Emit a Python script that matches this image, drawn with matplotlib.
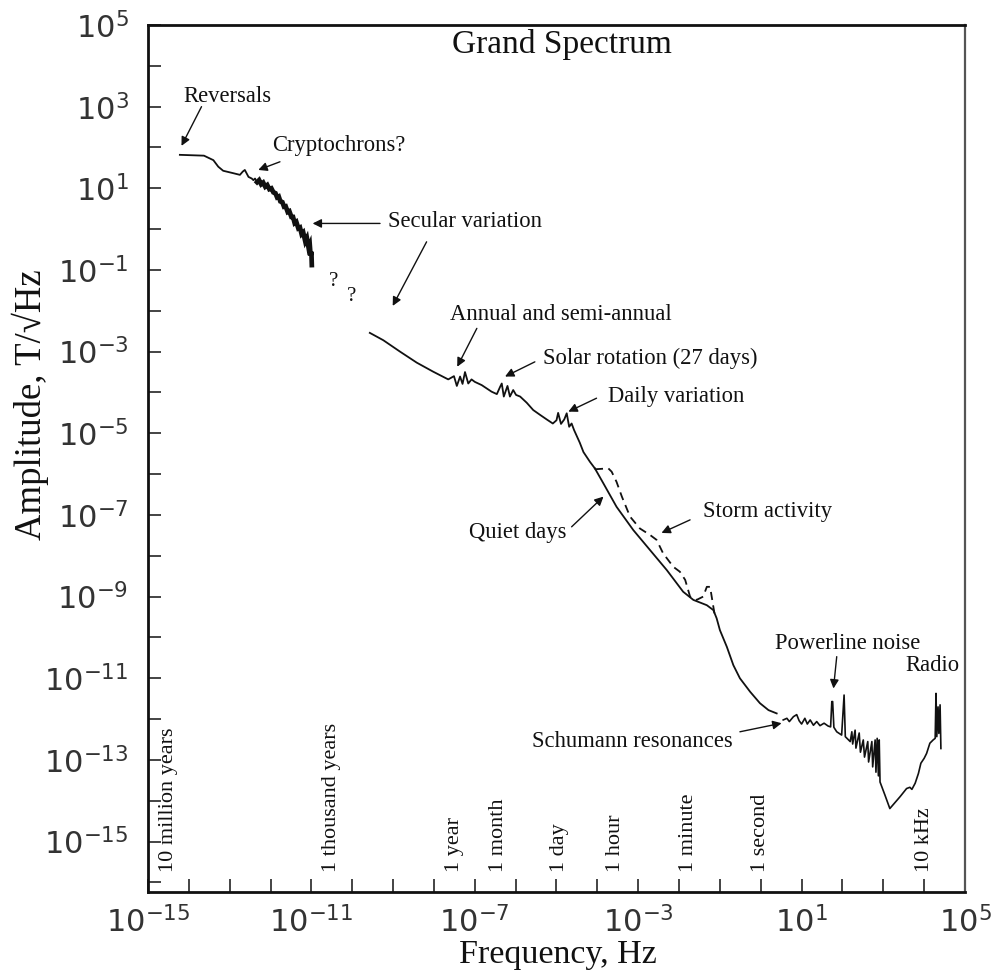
import numpy as np
import matplotlib

matplotlib.use("Agg")
import matplotlib.pyplot as plt
import matplotlib.transforms as mtransforms
from matplotlib.ticker import FixedLocator, FuncFormatter, NullLocator

SERIF = ["Liberation Serif", "DejaVu Serif"]
INK = "#111111"

# ---- traced spectrum, stored as log10(f / Hz) and log10(A / T Hz^-1/2) ------
# reversals -> cryptochrons -> secular variation (palaeomagnetic record)
geo_logf = [-14.22, -13.63, -13.40, -13.28, -13.16, -12.91, -12.75, -12.68,
            -12.63, -12.54, -12.46, -12.42, -12.38, -12.33, -12.28, -12.23,
            -12.18, -12.13, -12.08, -12.03, -11.98, -11.93, -11.88, -11.84,
            -11.80, -11.76, -11.71, -11.67, -11.63, -11.58, -11.54, -11.49,
            -11.45, -11.41, -11.37, -11.32, -11.28, -11.24, -11.20, -11.15,
            -11.11, -11.07, -11.04, -11.02, -11.00, -10.99]
geo_loga = [1.82, 1.80, 1.69, 1.53, 1.43, 1.37, 1.33, 1.41,
            1.45, 1.28, 1.24, 1.20, 1.24, 1.15, 1.20, 1.10,
            1.14, 1.04, 1.08, 0.98, 1.00, 0.90, 0.88, 0.78,
            0.80, 0.68, 0.66, 0.55, 0.56, 0.42, 0.44, 0.30,
            0.30, 0.15, 0.18, 0.02, 0.04, -0.12, -0.08, -0.30,
            -0.22, -0.45, -0.38, -0.65, -0.55, -0.88]

# observatory band: annual, solar rotation and daily lines
obs_logf = [-9.57, -9.24, -8.83, -8.42, -8.02, -7.65, -7.51, -7.44,
            -7.36, -7.30, -7.24, -7.16, -7.08, -7.00, -6.83, -6.71,
            -6.59, -6.46, -6.38, -6.34, -6.29, -6.20, -6.14, -6.06,
            -5.99, -5.89, -5.73, -5.57, -5.40, -5.24, -5.09, -5.00,
            -4.96, -4.89, -4.81, -4.75, -4.69, -4.63, -4.57, -4.43,
            -4.34, -4.18, -4.06]
obs_loga = [-2.54, -2.72, -3.00, -3.27, -3.49, -3.68, -3.60, -3.84,
            -3.61, -3.79, -3.50, -3.78, -3.68, -3.74, -3.82, -3.90,
            -3.98, -4.04, -3.86, -3.78, -4.10, -3.84, -4.10, -3.94,
            -4.06, -4.10, -4.25, -4.43, -4.55, -4.66, -4.76, -4.68,
            -4.50, -4.77, -4.66, -4.51, -4.84, -4.76, -4.92, -5.23,
            -5.46, -5.70, -5.86]

# quiet-day spectrum down to the Schumann band
quiet_logf = [-4.06, -3.85, -3.53, -3.12, -2.71, -2.30, -1.90, -1.65,
              -1.32, -1.16, -1.08, -1.00, -0.83, -0.67, -0.51, -0.26,
              -0.02, 0.19, 0.39]
quiet_loga = [-5.86, -6.23, -6.80, -7.37, -7.86, -8.35, -8.88, -9.08,
              -9.21, -9.33, -9.53, -9.82, -10.23, -10.68, -11.00, -11.33,
              -11.61, -11.78, -11.86]

# disturbed (storm) days
storm_logf = [-4.06, -3.73, -3.65, -3.53, -3.40, -3.20, -2.96, -2.71,
              -2.55, -2.39, -2.14, -1.98, -1.85, -1.73, -1.57, -1.41,
              -1.32, -1.24, -1.16, -1.12]
storm_loga = [-5.88, -5.86, -5.94, -6.19, -6.55, -7.04, -7.33, -7.49,
              -7.61, -7.94, -8.27, -8.39, -8.59, -9.00, -9.08, -9.00,
              -8.76, -8.76, -9.25, -9.49]

# Schumann resonances, powerline harmonics, VLF minimum and radio
hf_logf = [0.55, 0.64, 0.70, 0.80, 0.88, 0.94, 1.00, 1.08,
           1.14, 1.21, 1.29, 1.37, 1.45, 1.55, 1.65, 1.71,
           1.74, 1.76, 1.79, 1.86, 1.98, 2.04, 2.07, 2.19,
           2.23, 2.25, 2.31, 2.33, 2.41, 2.44, 2.51, 2.54,
           2.62, 2.64, 2.72, 2.74, 2.80, 2.82, 2.85, 2.88,
           2.90, 2.92, 3.04, 3.16, 3.41, 3.57, 3.65, 3.70,
           3.78, 3.86, 3.92, 4.00, 4.06, 4.14, 4.22, 4.27,
           4.29, 4.31, 4.34, 4.36, 4.39, 4.41]
hf_loga = [-12.02, -11.98, -12.06, -11.94, -11.89, -12.04, -12.12, -11.98,
           -12.12, -12.02, -12.15, -12.06, -12.16, -12.10, -12.17, -12.19,
           -11.57, -11.57, -12.20, -12.31, -12.39, -11.41, -12.43, -12.55,
           -12.31, -12.61, -12.27, -12.71, -12.34, -12.81, -12.51, -12.93,
           -12.55, -13.05, -12.55, -13.17, -12.51, -13.30, -12.47, -13.39,
           -12.51, -13.54, -13.86, -14.19, -13.90, -13.70, -13.67, -13.72,
           -13.57, -13.33, -13.08, -12.96, -12.84, -12.59, -12.51, -12.47,
           -11.37, -12.43, -11.70, -12.35, -11.65, -12.72]

# reference periods marked along the frequency axis
period_freq = [3.17e-15, 3.17e-11, 3.17e-8, 3.8e-7, 1.16e-5, 2.78e-4,
               1.67e-2, 1.0, 1.0e4]
period_text = ["10 million years", "1 thousand years", "1 year", "1 month",
               "1 day", "1 hour", "1 minute", "1 second", "10 kHz"]


def dec(v):
    return np.power(10.0, np.asarray(v, dtype=float))


fig = plt.figure(figsize=(10.03, 9.76), dpi=100)
ax = fig.add_axes([148 / 1003, 84 / 976, 817 / 1003, 867 / 976])
ax.set_xscale("log")
ax.set_yscale("log")
ax.set_xlim(1e-15, 1e5)
ax.set_ylim(dec(-16.234), 1e5)

# ---- spectrum -------------------------------------------------------------
ax.plot(dec(geo_logf), dec(geo_loga), color=INK, lw=1.3)
ax.plot(dec(geo_logf[13:]), dec(geo_loga[13:]), color=INK, lw=3.4,
        solid_joinstyle="miter")
ax.plot(dec(obs_logf), dec(obs_loga), color=INK, lw=1.3)
ax.plot(dec(quiet_logf), dec(quiet_loga), color=INK, lw=1.3)
ax.plot(dec(storm_logf), dec(storm_loga), color=INK, lw=1.3,
        ls=(0, (4.5, 3)))
ax.plot(dec(hf_logf), dec(hf_loga), color=INK, lw=1.2)


# ---- annotations ------------------------------------------------------------
def note(s, lf, la, ha="left", size=16.3):
    ax.text(dec(lf), dec(la), s, ha=ha, va="center", fontsize=size,
            family=SERIF, color=INK)


def arrow(start, tip):
    ax.annotate("", xy=(dec(tip[0]), dec(tip[1])),
                xytext=(dec(start[0]), dec(start[1])),
                arrowprops=dict(arrowstyle="-|>", color=INK, lw=1.0,
                                mutation_scale=13, shrinkA=0, shrinkB=0))


note("Reversals", -14.14, 3.24)
arrow((-13.69, 3.00), (-14.18, 2.04))

note("Cryptochrons?", -11.96, 2.06)
arrow((-11.77, 1.65), (-12.30, 1.45))

note("Secular variation", -9.13, 0.18)
arrow((-9.32, 0.14), (-10.97, 0.14))
arrow((-8.18, -0.31), (-9.01, -1.88))

note("?", -10.46, -1.29, ha="center", size=15)
note("?", -10.01, -1.66, ha="center", size=15)

note("Annual and semi-annual", -7.61, -2.10)
arrow((-6.95, -2.43), (-7.43, -3.37))

note("Solar rotation (27 days)", -5.32, -3.16)
arrow((-5.53, -3.25), (-6.26, -3.61))

note("Daily variation", -3.74, -4.10)
arrow((-4.02, -4.14), (-4.71, -4.47))

note("Quiet days", -4.75, -7.44, ha="right")
arrow((-4.63, -7.29), (-3.85, -6.55))

note("Storm activity", -1.41, -6.92)
arrow((-1.73, -7.12), (-2.43, -7.44))

note("Schumann resonances", -0.68, -12.55, ha="right")
arrow((-0.51, -12.31), (0.51, -12.10))

note("Powerline noise", 0.35, -10.14)
arrow((1.86, -10.47), (1.78, -11.25))

note("Radio", 3.53, -10.68)

trans = mtransforms.blended_transform_factory(ax.transData, ax.transAxes)
for f, s in zip(period_freq, period_text):
    ax.text(f, 0.023, s, rotation=90, ha="center", va="bottom",
            transform=trans, fontsize=16, family=SERIF, color=INK)

ax.text(0.507, 0.977, "Grand Spectrum", transform=ax.transAxes,
        ha="center", va="center", fontsize=24, family=SERIF, color=INK)

# ---- axes -------------------------------------------------------------------
ax.xaxis.set_major_locator(FixedLocator(dec(np.arange(-15, 6))))
ax.yaxis.set_major_locator(FixedLocator(dec(np.arange(-16, 6))))
ax.xaxis.set_minor_locator(NullLocator())
ax.yaxis.set_minor_locator(NullLocator())


def xfmt(v, pos):
    k = int(round(np.log10(v)))
    return f"$10^{{{k}}}$" if (k + 15) % 4 == 0 else ""


def yfmt(v, pos):
    k = int(round(np.log10(v)))
    return f"$10^{{{k}}}$" if k % 2 != 0 else ""


ax.xaxis.set_major_formatter(FuncFormatter(xfmt))
ax.yaxis.set_major_formatter(FuncFormatter(yfmt))
ax.tick_params(axis="both", direction="in", length=9.5, width=1.1,
               labelsize=22, labelcolor="#333333", color=INK)
ax.tick_params(axis="x", pad=10)
ax.tick_params(axis="y", pad=14)

for side in ("left", "bottom", "top"):
    ax.spines[side].set_linewidth(2.0)
    ax.spines[side].set_color(INK)
ax.spines["right"].set_linewidth(1.6)
ax.spines["right"].set_color("#555555")

ax.set_xlabel("Frequency, Hz", fontsize=24.5, family=SERIF, color=INK,
              va="center")
ax.xaxis.set_label_coords(0.502, -0.0727)
ax.set_ylabel("Amplitude, T/\u221aHz", fontsize=26.5, family=SERIF,
              color=INK, va="center")
ax.yaxis.set_label_coords(-0.144, 0.5617)

fig.savefig("out.png", dpi=100, facecolor="white")
